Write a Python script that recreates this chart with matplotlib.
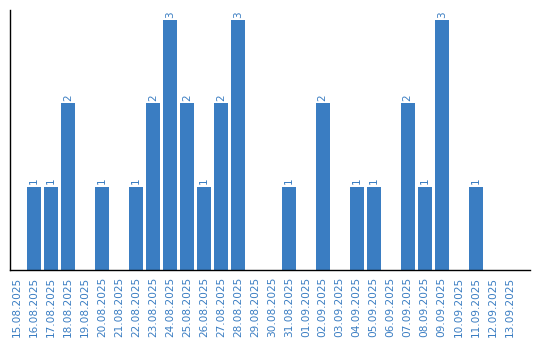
import matplotlib
matplotlib.use("Agg")
import matplotlib.pyplot as plt

dates = ["15.08.2025", "16.08.2025", "17.08.2025", "18.08.2025", "19.08.2025",
         "20.08.2025", "21.08.2025", "22.08.2025", "23.08.2025", "24.08.2025",
         "25.08.2025", "26.08.2025", "27.08.2025", "28.08.2025", "29.08.2025",
         "30.08.2025", "31.08.2025", "01.09.2025", "02.09.2025", "03.09.2025",
         "04.09.2025", "05.09.2025", "06.09.2025", "07.09.2025", "08.09.2025",
         "09.09.2025", "10.09.2025", "11.09.2025", "12.09.2025", "13.09.2025"]
counts = [0, 1, 1, 2, 0, 1, 0, 1, 2, 3,
          2, 1, 2, 3, 0, 0, 1, 0, 2, 0,
          1, 1, 0, 2, 1, 3, 0, 1, 0, 0]

blue = "#3a7dc2"

fig = plt.figure(figsize=(5.4, 3.4), dpi=100)
ax = fig.add_axes([10 / 540, 70 / 340, 520 / 540, 260 / 340])

x = list(range(len(dates)))
ax.bar(x, counts, width=0.82, color=blue)

for xi, v in zip(x, counts):
    if v > 0:
        ax.text(xi, v + 0.03, str(v), rotation=90, ha="center", va="bottom",
                fontsize=7.5, color=blue)

ax.set_xlim(-0.41, 30.2)
ax.set_ylim(0, 3.12)
ax.set_xticks(x)
ax.set_xticklabels(dates, rotation=90, fontsize=7.6, color=blue)
ax.tick_params(axis="x", length=0, pad=5)
ax.set_yticks([])
ax.spines["top"].set_visible(False)
ax.spines["right"].set_visible(False)
ax.spines["left"].set_linewidth(1.0)
ax.spines["bottom"].set_linewidth(1.0)

fig.savefig("out.png", dpi=100)
